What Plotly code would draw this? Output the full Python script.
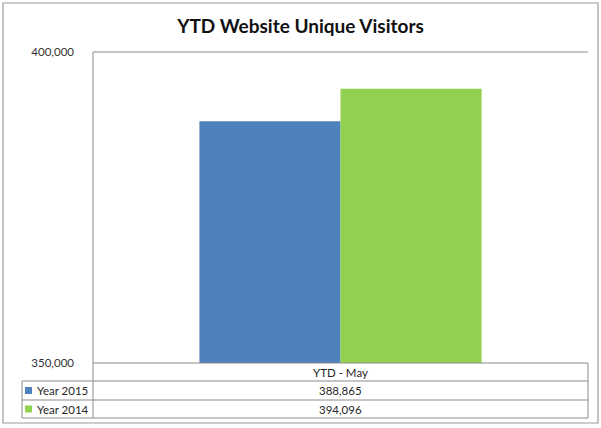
import plotly.graph_objects as go

categories = ["YTD - May"]
series_names = ["Year 2015", "Year 2014"]
series_values = [[388865], [394096]]
series_colors = ["#4F81BD", "#92D050"]
y_ticks = [350000, 400000]
y_tick_labels = ["350,000", "400,000"]

W, H = 601, 428
L, R, T, B = 93, 588, 52, 363
PW, PH = R - L, B - T

def px(x):
    return (x - L) / PW

def py(y):
    return (B - y) / PH

FONT = "Lato"
fig = go.Figure()
for name, vals, col in zip(series_names, series_values, series_colors):
    fig.add_trace(go.Bar(x=categories, y=vals, name=name, marker=dict(color=col, line=dict(width=0))))

shapes = []
line_col = "#8C8C8C"
# outer border
shapes.append(dict(type="rect", xref="paper", yref="paper", x0=px(3), x1=px(598), y0=py(423), y1=py(3),
                   line=dict(color="#9A9A9A", width=1.2), fillcolor="rgba(0,0,0,0)", layer="below"))
# plot frame top and left
shapes.append(dict(type="line", xref="paper", yref="paper", x0=0, x1=1, y0=1, y1=1, line=dict(color=line_col, width=1)))
shapes.append(dict(type="line", xref="paper", yref="paper", x0=0, x1=0, y0=0, y1=1, line=dict(color=line_col, width=1)))
# table
rows = [363, 381, 400, 418]
for i, yy in enumerate(rows):
    x0 = px(L) if i == 0 else px(22)
    shapes.append(dict(type="line", xref="paper", yref="paper", x0=x0, x1=1, y0=py(yy), y1=py(yy), line=dict(color=line_col, width=1)))
shapes.append(dict(type="line", xref="paper", yref="paper", x0=1, x1=1, y0=py(418), y1=py(363), line=dict(color=line_col, width=1)))
shapes.append(dict(type="line", xref="paper", yref="paper", x0=0, x1=0, y0=py(418), y1=py(363), line=dict(color=line_col, width=1)))
shapes.append(dict(type="line", xref="paper", yref="paper", x0=px(22), x1=px(22), y0=py(418), y1=py(381), line=dict(color=line_col, width=1)))

annotations = []
tfont = dict(family=FONT, size=11.5, color="#262626")
annotations.append(dict(xref="paper", yref="paper", x=0.5, y=py((363 + 381) / 2), text=categories[0],
                        showarrow=False, font=tfont, xanchor="center", yanchor="middle"))
for i, (name, vals, col) in enumerate(zip(series_names, series_values, series_colors)):
    yc = (rows[i + 1] + rows[i + 2]) / 2
    shapes.append(dict(type="rect", xref="paper", yref="paper", x0=px(25), x1=px(32), y0=py(yc + 3.5), y1=py(yc - 3.5),
                       fillcolor=col, line=dict(width=0)))
    annotations.append(dict(xref="paper", yref="paper", x=px(35), y=py(yc), text=name, showarrow=False,
                            font=tfont, xanchor="left", yanchor="middle"))
    annotations.append(dict(xref="paper", yref="paper", x=0.5, y=py(yc), text=f"{vals[0]:,}", showarrow=False,
                            font=tfont, xanchor="center", yanchor="middle"))

fig.update_layout(
    width=W, height=H,
    margin=dict(l=L, r=W - R, t=T, b=H - B, pad=0),
    paper_bgcolor="white", plot_bgcolor="white",
    title=dict(text="<b>YTD Website Unique Visitors</b>", x=0.5, xref="container", xanchor="center",
               y=1 - 26 / H, yref="container", yanchor="middle", font=dict(family=FONT, size=19, color="#111111")),
    barmode="group", bargap=0.43, bargroupgap=0,
    showlegend=False,
    xaxis=dict(showticklabels=False, showgrid=False, zeroline=False, showline=False, fixedrange=True),
    yaxis=dict(range=[y_ticks[0], y_ticks[-1]], tickvals=y_ticks, ticktext=y_tick_labels, showgrid=False,
               zeroline=False, showline=False, ticks="", ticklabelstandoff=18,
               tickfont=dict(family=FONT, size=11.5, color="#333333")),
    shapes=shapes, annotations=annotations,
    font=dict(family=FONT),
)
fig.write_html("out.html", config={"displayModeBar": False},
               post_script="document.body.style.margin='0';document.body.style.overflow='hidden';")
